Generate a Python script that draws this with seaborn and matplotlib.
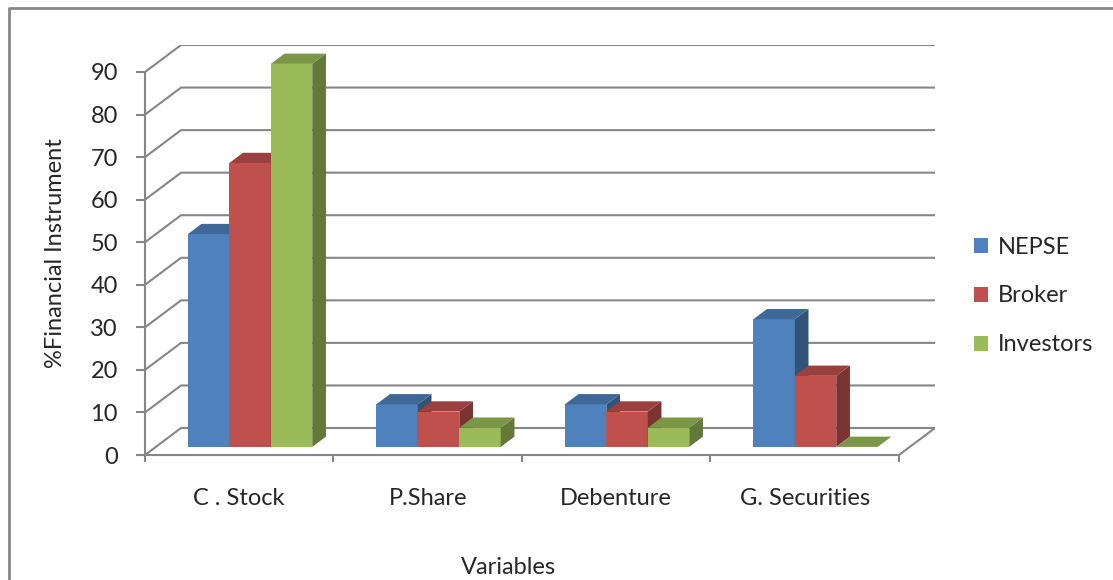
import matplotlib
matplotlib.use('Agg')
import matplotlib.pyplot as plt
import matplotlib.transforms as mtransforms
from matplotlib.patches import Polygon
from matplotlib.lines import Line2D
from matplotlib.colors import to_rgb
import seaborn as sns
import pandas as pd

categories = ['C . Stock', 'P.Share', 'Debenture', 'G. Securities']
groups = ['NEPSE', 'Broker', 'Investors']
nepse = [50, 10, 10, 30]
broker = [66.7, 8.3, 8.3, 16.7]
investors = [90, 4.5, 4.5, 0]
yticks = list(range(0, 100, 10))

colors = ['#4F81BD', '#C0504D', '#9BBB59']
grid_col = '#868686'

df = pd.DataFrame({
    'Variables': categories * 3,
    'Group': [g for g in groups for _ in categories],
    'Value': nepse + broker + investors,
})

sns.set_style('white')
plt.rcParams['font.family'] = ['Lato', 'DejaVu Sans']
fs = 17

W, H = 1113, 580
fig = plt.figure(figsize=(W / 100, H / 100), dpi=100)
# axes box: front plane from x=145 to back wall right edge 935, value 0 at y=455, top 45
ax = fig.add_axes([145 / W, (H - 455) / H, (935 - 145) / W, (455 - 45) / H])

# depth of the 3d box in data units
DX = 36 / 188.25
DY = 27 / 4.256
F_FRONT, F_DEPTH = 0.3, 0.38

sns.barplot(data=df, x='Variables', y='Value', hue='Group', palette=colors,
            width=0.66, dodge=True, ax=ax, legend=True, saturation=1,
            edgecolor='none', linewidth=0)

# seaborn resets the limits on a categorical axis, so set them afterwards
ax.set_xlim(-0.5, 3.5 + DX)
ax.set_ylim(0, 90 + DY)

# walls
for v in yticks:
    ax.add_line(Line2D([-0.5, -0.5 + DX, 3.5 + DX], [v, v + DY, v + DY],
                       color=grid_col, lw=1.5, zorder=1))
ax.add_line(Line2D([3.5, 3.5 + DX], [0, DY], color=grid_col, lw=1.5, zorder=1))

off = mtransforms.Affine2D().translate(F_FRONT * DX, F_FRONT * DY) + ax.transData
bx, by = F_DEPTH * DX, F_DEPTH * DY


def shade(c, k):
    r, g, b = to_rgb(c)
    return (r * k, g * k, b * k)


bars = []
for cont, col in zip(ax.containers, colors):
    for p in cont.patches:
        bars.append((p.get_x(), p, col))
bars.sort(key=lambda t: t[0])

for i, (x0, p, col) in enumerate(bars):
    w = p.get_width()
    h = p.get_height()
    z = 2 + i * 0.1
    p.set_transform(off)
    p.set_zorder(z)
    side = Polygon([(x0 + w, 0), (x0 + w + bx, by), (x0 + w + bx, h + by), (x0 + w, h)],
                   closed=True, fc=shade(col, 0.64), ec='none', transform=off, zorder=z + 0.01)
    top = Polygon([(x0, h), (x0 + w, h), (x0 + w + bx, h + by), (x0 + bx, h + by)],
                  closed=True, fc=shade(col, 0.8), ec='none', transform=off, zorder=z + 0.02)
    ax.add_patch(side)
    ax.add_patch(top)

# axes and ticks
for s in ['top', 'right']:
    ax.spines[s].set_visible(False)
ax.spines['left'].set_bounds(0, 90)
ax.spines['bottom'].set_bounds(-0.5, 3.5)
for s in ['left', 'bottom']:
    ax.spines[s].set_color(grid_col)
    ax.spines[s].set_linewidth(1.5)
    ax.spines[s].set_zorder(1.5)

ax.set_yticks(yticks)
ax.set_yticklabels([str(v) for v in yticks], fontsize=fs)
ax.tick_params(axis='y', left=True, length=6.5, width=1.5, color=grid_col, pad=13,
               direction='out')

ax.set_xticks(range(len(categories)))
ax.set_xticklabels(categories, fontsize=fs)
ax.set_xticks([i - 0.5 for i in range(len(categories) + 1)], minor=True)
ax.tick_params(axis='x', which='major', bottom=True, length=0, pad=24)
ax.tick_params(axis='x', which='minor', bottom=True, length=5, width=1.5, color=grid_col,
               direction='out')

ax.set_xlabel('Variables', fontsize=fs)
ax.xaxis.set_label_coords((508 - 145) / 790, (455 - 557) / 410)
ax.set_ylabel('%Financial Instrument', fontsize=fs)
ax.yaxis.set_label_coords((66 - 145) / 790, 0.493)

sns.move_legend(ax, 'center left', bbox_to_anchor=(974 / W, (H - 296) / H),
                bbox_transform=fig.transFigure, frameon=False, title=None,
                fontsize=fs, handlelength=0.6, handleheight=0.6, handletextpad=0.4,
                labelspacing=1.18, borderpad=0, borderaxespad=0)

# outer chart border
fig.add_artist(Line2D([9 / W, 9 / W, 1.0], [0.0, 1 - 8 / H, 1 - 8 / H],
                      transform=fig.transFigure, color=grid_col, lw=2))

fig.savefig('out.png', dpi=100)
